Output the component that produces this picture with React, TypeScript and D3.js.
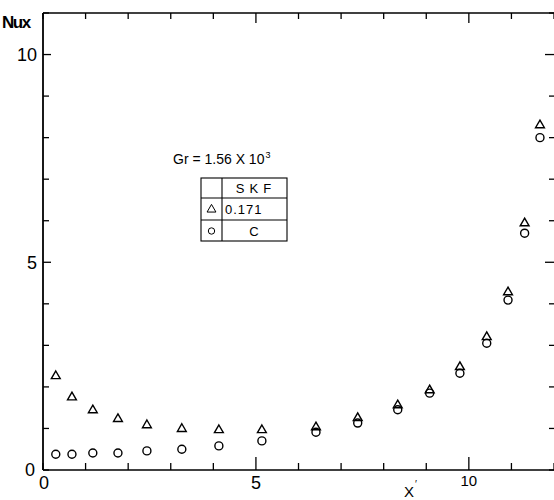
import React from "react";
import * as d3 from "d3";

// Local Nusselt number versus dimensionless distance X'
const xValues = [0.3, 0.68, 1.17, 1.76, 2.44, 3.26, 4.13, 5.14, 6.41, 7.39, 8.33, 9.08, 9.79, 10.42, 10.92, 11.31, 11.67];
const nuSkf171 = [2.26, 1.75, 1.44, 1.23, 1.08, 0.99, 0.96, 0.96, 1.03, 1.25, 1.56, 1.92, 2.48, 3.2, 4.28, 5.94, 8.3];
const nuSkf0 = [0.38, 0.38, 0.41, 0.41, 0.46, 0.5, 0.58, 0.7, 0.91, 1.13, 1.45, 1.85, 2.33, 3.05, 4.09, 5.7, 8.0];

const xTickValues = [0, 1, 2, 3, 4, 5, 6, 7, 8, 9, 10, 11, 12];
const yTickValues = [0, 1, 2, 3, 4, 5, 6, 7, 8, 9, 10, 11];
const xLabels = ["0", "5", "10"];
const yLabels = ["0", "5", "10"];

const W = 554;
const H = 500;
const left = 43;
const right = 557;
const top = 13;
const bottom = 470;

export default function App() {
  const x = d3.scaleLinear().domain([0, 12.07]).range([left, right]);
  const y = d3.scaleLinear().domain([0, 11]).range([bottom, top]);
  const font = "'Liberation Sans', Arial, sans-serif";
  const tri = d3.symbol().type(d3.symbolTriangle).size(34)();

  return (
    <svg width={W} height={H} style={{ position: "absolute", left: 0, top: 0, background: "#fff" }}>
      {/* frame */}
      <g stroke="#000" fill="none">
        <line x1={left} y1={top} x2={left} y2={bottom} strokeWidth={1.8} />
        <line x1={left} y1={bottom} x2={right} y2={bottom} strokeWidth={1.3} />
        <line x1={left} y1={top} x2={right} y2={top} strokeWidth={1.3} />
        <line x1={right} y1={top} x2={right} y2={bottom} strokeWidth={1.3} />
      </g>
      {/* ticks */}
      <g stroke="#000" strokeWidth={1.3}>
        {xTickValues.map((v) => {
          const major = v % 5 === 0 && v !== 0;
          return (
            <g key={"xt" + v}>
              <line x1={x(v)} x2={x(v)} y1={bottom} y2={bottom - (major ? 13 : 7)} />
              <line x1={x(v)} x2={x(v)} y1={top} y2={top + (major ? 10 : 6)} />
            </g>
          );
        })}
        {yTickValues.map((v) => {
          const major = v % 5 === 0 && v !== 0;
          return (
            <g key={"yt" + v}>
              <line x1={left} x2={left + (major ? 8 : 6)} y1={y(v)} y2={y(v)} />
              <line x1={right} x2={right - (major ? 12 : 8)} y1={y(v)} y2={y(v)} />
            </g>
          );
        })}
      </g>
      {/* axis labels */}
      <g fontFamily={font} fill="#000">
        <text x={2} y={28} fontSize={17} fontWeight="bold" letterSpacing={-1.5}>Nux</text>
        {yLabels.map((l) => (
          <text key={"yl" + l} x={l === "0" ? 35 : 37} y={y(+l)} dy="0.36em" fontSize={18} textAnchor="end">
            {l}
          </text>
        ))}
        {xLabels.map((l) => (
          <text key={"xl" + l} x={x(+l)} y={l === "10" ? 486 : 489} fontSize={l === "10" ? 15 : 18} textAnchor={l === "0" ? "start" : "middle"} dx={l === "0" ? -4 : 0}>
            {l}
          </text>
        ))}
        <text x={404} y={497} fontSize={15}>X</text>
        <text x={415} y={488} fontSize={10}>′</text>
      </g>
      {/* annotation */}
      <text x={173} y={164} fontSize={14} fontFamily={font} fill="#000">
        Gr = 1.56 X 10
        <tspan dx={1} dy={-6} fontSize={9}>3</tspan>
      </text>
      {/* key table */}
      <g stroke="#000" strokeWidth={1.1} fill="none">
        <rect x={201} y={178} width={86} height={63} />
        <line x1={222} x2={222} y1={178} y2={241} />
        <line x1={201} x2={287} y1={198} y2={198} />
        <line x1={201} x2={287} y1={220} y2={220} />
        <path d={tri} transform={`translate(211.5,209.5)`} strokeWidth={1} />
        <circle cx={211.5} cy={231} r={3.2} strokeWidth={1} />
      </g>
      <g fontFamily={font} fill="#000" fontSize={13}>
        <text x={256} y={193} textAnchor="middle" letterSpacing={5}>SKF</text>
        <text x={225} y={214} letterSpacing={1}>0.171</text>
        <text x={254} y={236} textAnchor="middle">C</text>
      </g>
      {/* data markers */}
      <g stroke="#000" fill="none" strokeWidth={1.4}>
        {xValues.map((v, i) => (
          <circle key={"c" + i} cx={x(v)} cy={y(nuSkf0[i])} r={4} />
        ))}
        {xValues.map((v, i) => (
          <path key={"t" + i} d={tri} transform={`translate(${x(v)},${y(nuSkf171[i])})`} />
        ))}
      </g>
    </svg>
  );
}
